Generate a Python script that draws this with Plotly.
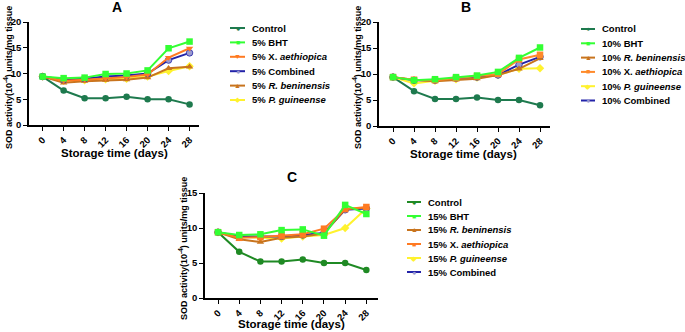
import plotly.graph_objects as go

W, H = 685, 332
FONT = "Liberation Sans, Arial, sans-serif"

days = [0, 4, 8, 12, 16, 20, 24, 28]
day_labels = ["0", "4", "8", "12", "16", "20", "24", "28"]

# Panel A (5%)
a_control = [9.4, 6.7, 5.2, 5.2, 5.5, 5.0, 5.0, 4.0]
a_bht = [9.4, 9.1, 9.2, 9.9, 10.0, 10.6, 14.9, 16.2]
a_xaeth = [9.4, 8.6, 8.8, 9.1, 9.3, 9.8, 13.1, 14.9]
a_comb = [9.4, 8.8, 9.0, 9.4, 9.6, 10.0, 12.6, 14.0]
a_rben = [9.4, 8.2, 8.5, 8.7, 8.8, 9.2, 11.0, 11.3]
a_pguin = [9.4, 8.6, 8.7, 8.9, 9.0, 9.4, 10.5, 11.4]

# Panel B (10%)
b_control = [9.4, 6.7, 5.2, 5.2, 5.5, 5.0, 5.0, 4.0]
b_bht = [9.4, 8.8, 9.0, 9.4, 9.7, 10.4, 13.1, 15.1]
b_rben = [9.4, 8.9, 8.6, 8.9, 9.1, 9.8, 11.0, 13.0]
b_xaeth = [9.4, 8.9, 8.8, 9.2, 9.6, 10.0, 12.8, 13.7]
b_pguin = [9.4, 8.2, 8.7, 9.0, 9.3, 9.8, 11.0, 11.1]
b_comb = [9.4, 8.8, 8.8, 9.2, 9.4, 9.8, 11.8, 13.3]

# Panel C (15%)
c_control = [9.4, 6.6, 5.2, 5.2, 5.5, 5.0, 5.0, 4.0]
c_bht = [9.4, 9.0, 9.1, 9.7, 9.8, 8.9, 13.3, 12.0]
c_rben = [9.4, 8.4, 8.0, 8.6, 8.8, 9.2, 12.7, 12.9]
c_xaeth = [9.4, 8.6, 8.7, 8.9, 9.1, 9.9, 12.7, 13.0]
c_pguin = [9.4, 8.8, 8.6, 8.5, 8.8, 9.0, 10.0, 12.8]
c_comb = [9.4, 8.8, 8.8, 8.8, 9.0, 9.3, 12.6, 12.8]

y_title = "<b>SOD activity(10<sup>-4</sup>) units/mg tissue</b>"
x_title = "<b>Storage time (days)</b>"

COL = {
    "ctrl": "#1E7A4E",
    "ctrlC": "#1F8A24",
    "bht": "#33FF33",
    "xaeth": "#FF7A22",
    "xaethB": "#FF8A2A",
    "comb": "#2323A8",
    "rben": "#C8741E",
    "pguin": "#FFF22E",
}
GLYPH = {"circle": "●", "square": "■", "triangle-up": "▲", "triangle-down": "▼", "diamond": "◆"}

fig = go.Figure()
legend_rows = {"A": [], "B": [], "C": []}


def add(panel, x_ax, y_ax, name, vals, color, symbol, mcolor=None):
    fig.add_trace(go.Scatter(
        x=days, y=vals, name=name, mode="lines+markers",
        xaxis=x_ax, yaxis=y_ax, showlegend=False,
        line=dict(color=color, width=2),
        marker=dict(symbol=symbol, size=6.5, color=mcolor or color,
                    line=dict(width=0.8 if mcolor else 0, color=color)),
    ))
    legend_rows[panel].append((name, color, mcolor or color, symbol))


# A (drawing order: bottom first)
add("A", "x", "y", "Control", a_control, COL["ctrl"], "circle")
add("A", "x", "y", "5% <i>P. guineense</i>", a_pguin, COL["pguin"], "diamond")
add("A", "x", "y", "5% <i>R. beninensis</i>", a_rben, COL["rben"], "triangle-up")
add("A", "x", "y", "5% Combined", a_comb, COL["comb"], "circle", "#9A9AD0")
add("A", "x", "y", "5% X. <i>aethiopica</i>", a_xaeth, COL["xaeth"], "triangle-down")
add("A", "x", "y", "5% BHT", a_bht, COL["bht"], "square")

# B
add("B", "x2", "y2", "Control", b_control, COL["ctrl"], "circle")
add("B", "x2", "y2", "10% <i>P. guineense</i>", b_pguin, COL["pguin"], "diamond")
add("B", "x2", "y2", "10% Combined", b_comb, COL["comb"], "circle", "#9A9AD0")
add("B", "x2", "y2", "10% <i>R. beninensis</i>", b_rben, COL["rben"], "triangle-up")
add("B", "x2", "y2", "10% X. <i>aethiopica</i>", b_xaeth, COL["xaethB"], "square")
add("B", "x2", "y2", "10% BHT", b_bht, COL["bht"], "square")

# C
add("C", "x3", "y3", "Control", c_control, COL["ctrlC"], "circle")
add("C", "x3", "y3", "15% <i>P. guineense</i>", c_pguin, COL["pguin"], "diamond")
add("C", "x3", "y3", "15% Combined", c_comb, COL["comb"], "circle", "#9A9AD0")
add("C", "x3", "y3", "15% <i>R. beninensis</i>", c_rben, COL["rben"], "triangle-up")
add("C", "x3", "y3", "15% X. <i>aethiopica</i>", c_xaeth, COL["xaeth"], "square")
add("C", "x3", "y3", "15% BHT", c_bht, COL["bht"], "square")

# legend order as in reference
legend_order = {
    "A": ["Control", "5% BHT", "5% X. <i>aethiopica</i>", "5% Combined",
          "5% <i>R. beninensis</i>", "5% <i>P. guineense</i>"],
    "B": ["Control", "10% BHT", "10% <i>R. beninensis</i>", "10% X. <i>aethiopica</i>",
          "10% <i>P. guineense</i>", "10% Combined"],
    "C": ["Control", "15% BHT", "15% <i>R. beninensis</i>", "15% X. <i>aethiopica</i>",
          "15% <i>P. guineense</i>", "15% Combined"],
}


def xd(a, b):
    return [a / W, b / W]


def yd(top, bottom):
    return [(H - bottom) / H, (H - top) / H]


def xaxis(dom, rng, anchor):
    return dict(domain=xd(*dom), range=rng, anchor=anchor, tickmode="array",
                tickvals=days, ticktext=[f"<b>{t}</b>" for t in day_labels],
                tickangle=-45, showline=True, linecolor="black", linewidth=1.6,
                ticks="outside", ticklen=4, tickwidth=1.4, tickcolor="black",
                showgrid=False, zeroline=False, automargin=False,
                tickfont=dict(family=FONT, size=9.5, color="black"))


def yaxis(dom, rng, dtick, anchor):
    return dict(domain=yd(*dom), range=rng, anchor=anchor, dtick=dtick,
                tickmode="linear", tick0=0, automargin=False,
                showline=True, linecolor="black", linewidth=1.6,
                ticks="outside", ticklen=4, tickwidth=1.4, tickcolor="black",
                showgrid=False, zeroline=False, tickprefix="<b>", ticksuffix="</b>",
                tickfont=dict(family=FONT, size=9.5, color="black"))


fig.update_layout(
    width=W, height=H,
    margin=dict(l=0, r=0, t=0, b=0),
    paper_bgcolor="white", plot_bgcolor="white",
    font=dict(family=FONT, color="black"),
    xaxis=xaxis((29, 199), [-2.6, 29.8], "y"),
    yaxis=yaxis((22, 125), [0, 20], 5, "x"),
    xaxis2=xaxis((379, 550), [-2.67, 29.9], "y2"),
    yaxis2=yaxis((22, 126), [0, 20], 5, "x2"),
    xaxis3=xaxis((205, 378), [-2.46, 30.2], "y3"),
    yaxis3=yaxis((193, 298), [0, 15], 5, "x3"),
    showlegend=False,
)


def ann(text, x, y, size, angle=0, xanchor="center", color="black"):
    fig.add_annotation(text=text, x=x / W, y=(H - y) / H, xref="paper", yref="paper",
                       showarrow=False, textangle=angle, xanchor=xanchor, yanchor="middle",
                       font=dict(family=FONT, size=size, color=color))


# manual legends (compact row spacing as in the reference)
legend_pos = {"A": (230, 250, 28, 14.4), "B": (581, 600, 29, 14.3), "C": (407, 426, 202, 14.0)}
for panel, (lx, tx, y0, dy) in legend_pos.items():
    rows = {r[0]: r for r in legend_rows[panel]}
    for i, name in enumerate(legend_order[panel]):
        _, color, mcolor, symbol = rows[name]
        yy = y0 + i * dy
        fig.add_shape(type="line", xref="paper", yref="paper",
                      x0=lx / W, x1=(tx - 5) / W, y0=(H - yy) / H, y1=(H - yy) / H,
                      line=dict(color=color, width=2))
        ann(GLYPH[symbol], (lx + tx - 5) / 2, yy, 7, color=mcolor)
        ann(f"<b>{name}</b>", tx, yy, 9.5, xanchor="left")

ann("<b>A</b>", 117, 7, 14)
ann("<b>B</b>", 466, 7, 14)
ann("<b>C</b>", 292, 177, 14)
ann(x_title, 115, 153, 11.5)
ann(x_title, 463, 154, 11.5)
ann(x_title, 291, 324, 11.5)
ann(y_title, 8, 78, 9, -90)
ann(y_title, 357, 78, 9, -90)
ann(y_title, 183, 248, 9, -90)

fig.write_html(
    "out.html",
    config={"displayModeBar": False},
    post_script="document.body.style.margin='0';document.body.style.overflow='hidden';",
)
